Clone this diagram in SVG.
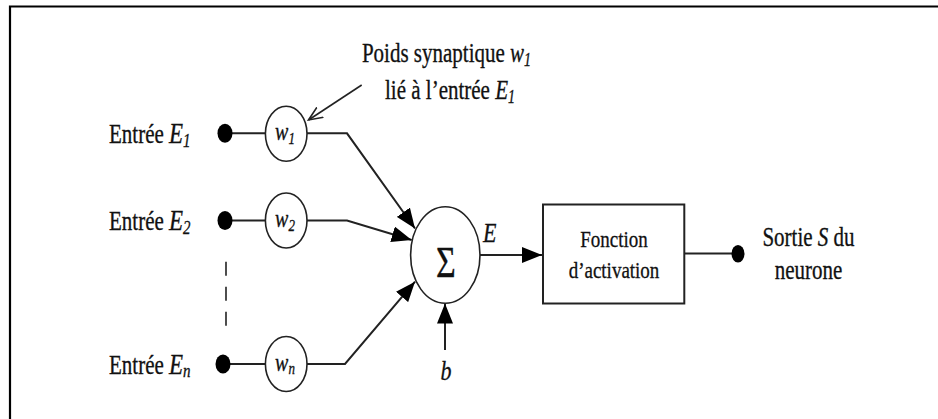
<svg xmlns="http://www.w3.org/2000/svg" width="938" height="419" viewBox="0 0 938 419">
  <style>
    .t { font-family: "Liberation Serif", "Times New Roman", serif; fill: #111; stroke: #111; stroke-width: 0.25; }
    .lbl { font-size: 21px; }
    .it { font-style: italic; }
    .node { fill: #fff; stroke: #222; stroke-width: 1.6; }
    .dot { fill: #000; }
    .wire { fill: none; stroke: #222; stroke-width: 2; }
  </style>
  <defs>
    <marker id="head" markerUnits="userSpaceOnUse" markerWidth="22" markerHeight="16" refX="20" refY="8" orient="auto">
      <path d="M0,0 L20,8 L0,16 Z" fill="#000"/>
    </marker>
    <marker id="open" markerUnits="userSpaceOnUse" markerWidth="16" markerHeight="14" refX="14" refY="7" orient="auto">
      <path d="M0,1 L14,7 L0,13" fill="none" stroke="#222" stroke-width="1.6"/>
    </marker>
  </defs>

  <rect width="938" height="419" fill="#fff"/>
  <!-- outer frame (top and left edges) -->
  <path d="M10,419 V6.5 H938" fill="none" stroke="#000" stroke-width="2.2"/>

  <!-- connectors -->
  <g id="connectors">
    <line class="wire" x1="225" y1="133.3" x2="266" y2="133.3"/>
    <line class="wire" x1="225" y1="220.5" x2="266" y2="220.5"/>
    <line class="wire" x1="223" y1="364" x2="266" y2="364"/>
    <path class="wire" d="M307,133.3 H347 L415,228.5" marker-end="url(#head)"/>
    <path class="wire" d="M307,220.5 H347 L411.7,240" marker-end="url(#head)"/>
    <path class="wire" d="M307,364 H345 L415,281.7" marker-end="url(#head)"/>
    <line class="wire" x1="480" y1="255" x2="542" y2="255" marker-end="url(#head)"/>
    <line class="wire" x1="445" y1="350" x2="445" y2="303.5" stroke-width="3" marker-end="url(#head)"/>
    <line class="wire" x1="684" y1="253.5" x2="738" y2="253.5"/>
    <line x1="226" y1="261.7" x2="226" y2="327" stroke="#222" stroke-width="1.6" stroke-dasharray="14,11"/>
    <line x1="361.7" y1="85" x2="308.5" y2="120" stroke="#222" stroke-width="1.6" marker-end="url(#open)"/>
  </g>

  <!-- input 1 -->
  <g id="input1">
    <text class="t lbl" transform="matrix(1 0 0 1.3 109 142.7)">Entrée <tspan class="it" font-size="23">E</tspan><tspan class="it" font-size="15" dy="3">1</tspan></text>
    <ellipse class="dot" cx="225" cy="133.3" rx="7.5" ry="9.5"/>
  </g>
  <g id="weight1">
    <ellipse class="node" cx="286.2" cy="133.8" rx="20.8" ry="27.5"/>
    <text class="t it" font-size="20" text-anchor="middle" transform="matrix(1 0 0 1.3 285 140)">w<tspan font-size="13" dy="3">1</tspan></text>
  </g>

  <!-- input 2 -->
  <g id="input2">
    <text class="t lbl" transform="matrix(1 0 0 1.3 109 230)">Entrée <tspan class="it" font-size="23">E</tspan><tspan class="it" font-size="15" dy="3">2</tspan></text>
    <ellipse class="dot" cx="225" cy="220.5" rx="7.5" ry="9.5"/>
  </g>
  <g id="weight2">
    <ellipse class="node" cx="286.2" cy="220.5" rx="20.8" ry="27.5"/>
    <text class="t it" font-size="20" text-anchor="middle" transform="matrix(1 0 0 1.3 285 227)">w<tspan font-size="13" dy="3">2</tspan></text>
  </g>

  <!-- input n -->
  <g id="inputN">
    <text class="t lbl" transform="matrix(1 0 0 1.3 109 373.5)">Entrée <tspan class="it" font-size="23">E</tspan><tspan class="it" font-size="15" dy="3">n</tspan></text>
    <ellipse class="dot" cx="223" cy="364" rx="7.5" ry="9.5"/>
  </g>
  <g id="weightN">
    <ellipse class="node" cx="286.2" cy="364" rx="20.8" ry="27.5"/>
    <text class="t it" font-size="20" text-anchor="middle" transform="matrix(1 0 0 1.3 285 370.5)">w<tspan font-size="13" dy="3">n</tspan></text>
  </g>

  <!-- annotation -->
  <g id="annotation">
    <text class="t lbl" text-anchor="middle" transform="matrix(1 0 0 1.3 446.5 62)">Poids synaptique <tspan class="it">w</tspan><tspan class="it" font-size="14" dy="3">1</tspan></text>
    <text class="t lbl" text-anchor="middle" transform="matrix(1 0 0 1.3 450 99)">lié à l’entrée <tspan class="it">E</tspan><tspan class="it" font-size="14" dy="3">1</tspan></text>
  </g>

  <!-- summation -->
  <g id="sum">
    <ellipse class="node" cx="445.3" cy="255" rx="34.7" ry="48.3"/>
    <text class="t" font-size="34" text-anchor="middle" transform="matrix(1 0 0 1.3 446 276.5)">Σ</text>
    <text class="t it" font-size="22" transform="matrix(1 0 0 1.25 483 241.5)">E</text>
  </g>

  <!-- bias -->
  <g id="bias">
    <text class="t it" font-size="22" text-anchor="middle" transform="matrix(1 0 0 1.25 446 380)">b</text>
  </g>

  <!-- activation function -->
  <g id="activation">
    <rect x="543" y="204.5" width="141.3" height="99" fill="#fff" stroke="#222" stroke-width="2"/>
    <text class="t" font-size="19" text-anchor="middle" transform="matrix(1 0 0 1.25 614 247)">Fonction</text>
    <text class="t" font-size="19" text-anchor="middle" transform="matrix(1 0 0 1.25 614 278)">d’activation</text>
  </g>

  <!-- output -->
  <g id="output">
    <ellipse class="dot" cx="738" cy="253.8" rx="6.5" ry="8.8"/>
    <text class="t lbl" text-anchor="middle" transform="matrix(1 0 0 1.35 808.5 246)">Sortie <tspan class="it">S</tspan> du</text>
    <text class="t lbl" text-anchor="middle" transform="matrix(1 0 0 1.35 808.5 279)">neurone</text>
  </g>
</svg>
